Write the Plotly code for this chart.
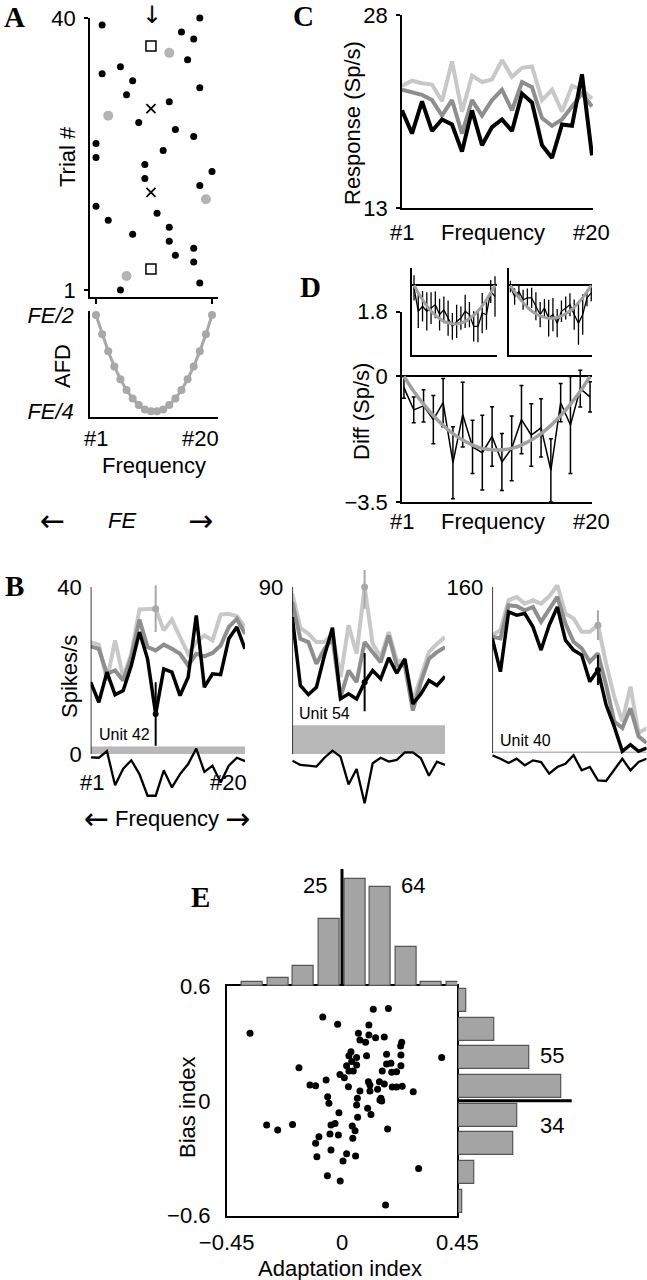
import plotly.graph_objects as go

# ------------------------------------------------------------------ data
freq = list(range(1, 21))

# Panel A : frequency presented on each trial
trial_num = list(range(1, 41))
trial_freq = [5, 18, 6, 10, 17, 14, 17, 13, 7, 13, 3, 11, 1, 19, 10, 18, 9, 20, 9, 1,
              12, 1, 17, 14, 8, 3, 10, 13, 6, 18, 7, 2, 5, 16, 13, 10, 17, 15, 2, 18]
trial_kind = ['d', 'd', 'g', 's', 'd', 'd', 'd', 'd', 'd', 'd',
              'd', 'd', 'd', 'g', 'x', 'd', 'd', 'd', 'd', 'd',
              'd', 'd', 'd', 'd', 'd', 'g', 'x', 'd', 'd', 'd',
              'd', 'd', 'd', 'd', 'g', 's', 'd', 'd', 'd', 'd']
a_yticks = [1, 40]
afd_values = [0.500, 0.450, 0.406, 0.367, 0.334, 0.306, 0.284, 0.267, 0.256, 0.251,
              0.251, 0.256, 0.267, 0.284, 0.306, 0.334, 0.367, 0.406, 0.450, 0.500]
afd_ticks = [0.5, 0.25]
afd_ticktext = ['<i>FE/2</i>', '<i>FE/4</i>']
freq_ticktext = ['#1', '#20']

# Panel C
c_light = [22.5, 22.9, 22.7, 22.6, 21.3, 24.4, 20.5, 23.3, 22.8, 23.0,
           24.5, 23.2, 23.9, 24.0, 21.4, 22.2, 20.5, 22.5, 22.2, 21.5]
c_mid = [22.2, 22.0, 21.8, 21.4, 20.2, 21.4, 18.8, 21.4, 20.2, 21.4,
         22.2, 20.6, 22.8, 22.4, 20.0, 19.4, 19.9, 20.9, 21.9, 20.9]
c_black = [20.6, 18.8, 21.3, 19.0, 19.9, 19.5, 17.4, 20.6, 17.9, 19.3,
           19.9, 19.0, 21.9, 21.2, 17.9, 16.9, 19.5, 19.4, 23.4, 17.1]
c_yticks = [13, 28]

# Panel D
d_mean = [-0.31, -0.93, -0.82, -1.20, -0.73, -2.40, -1.06, -1.96, -2.12, -1.67,
          -2.38, -2.00, -1.20, -1.63, -1.43, -2.61, -0.73, -1.35, -0.34, -0.57]
d_err = [0.30, 0.36, 0.45, 0.67, 0.67, 1.00, 0.90, 0.74, 1.04, 0.83,
         0.79, 0.90, 0.95, 0.87, 0.81, 0.88, 0.53, 1.35, 0.51, 0.42]
d_fit = [0, -0.41, -0.77, -1.09, -1.36, -1.59, -1.77, -1.91, -2.00, -2.04,
         -2.04, -2.00, -1.91, -1.77, -1.59, -1.36, -1.09, -0.77, -0.41, 0]
d_yticks = [-3.5, 0, 1.8]
d_yticktext = ['\u22123.5', '0', '1.8']
inl_mean = [-0.07, -0.72, -0.58, -0.72, -0.63, -0.54, -0.81, -0.68, -0.91, -1.14,
            -1.00, -0.91, -0.72, -0.81, -1.14, -1.14, -0.77, -0.81, -0.17, -0.31]
inl_err = [0.35, 0.46, 0.42, 0.53, 0.44, 0.37, 0.44, 0.37, 0.49, 0.37,
           0.46, 0.32, 0.46, 0.35, 0.42, 0.44, 0.56, 0.42, 0.32, 0.56]
inl_fit = [0, -0.21, -0.40, -0.57, -0.71, -0.83, -0.92, -1.00, -1.04, -1.07,
           -1.07, -1.04, -1.00, -0.92, -0.83, -0.71, -0.57, -0.40, -0.21, 0]
inr_mean = [-0.03, -0.31, -0.17, -0.40, -0.35, -0.35, -0.58, -0.81, -0.63, -0.91,
            -0.81, -1.05, -0.72, -0.63, -0.54, -0.81, -1.05, -0.81, -0.35, -0.21]
inr_err = [0.16, 0.23, 0.19, 0.28, 0.26, 0.28, 0.39, 0.35, 0.25, 0.51,
           0.46, 0.39, 0.30, 0.32, 0.32, 0.42, 0.60, 0.56, 0.23, 0.23]
inr_fit = [0, -0.18, -0.34, -0.48, -0.61, -0.71, -0.79, -0.85, -0.89, -0.91,
           -0.91, -0.89, -0.85, -0.79, -0.71, -0.61, -0.48, -0.34, -0.18, 0]

# Panel B (three units)
b1_light = [26.8, 26.2, 17.6, 27.2, 18.4, 24.0, 34.6, 34.6, 34.8, 29.6,
            32.2, 28.0, 24.0, 26.8, 28.4, 27.2, 33.4, 33.6, 33.0, 30.4]
b1_mid = [25.8, 25.2, 19.2, 20.0, 17.6, 23.2, 32.2, 25.6, 24.8, 26.2,
          25.2, 24.0, 21.2, 24.0, 23.4, 24.2, 26.0, 30.4, 32.4, 28.8]
b1_black = [17.2, 12.4, 19.6, 14.2, 15.2, 21.2, 29.2, 22.8, 9.6, 20.4,
            19.6, 14.0, 18.4, 33.2, 16.0, 19.2, 19.0, 27.6, 30.4, 25.2]
b1_diff = [-0.8, -0.9, 0.7, -7.5, -3.5, -1.5, -4.8, -10.0, -10.0, -3.9,
           -8.0, -4.8, -2.4, 1.3, -4.3, -2.8, -6.8, -2.8, -0.9, -1.7]
b1_base = 1.8
b1_err_f, b1_light_err, b1_black_err = 9, 5.6, 7.6
b1_top = 40

b2_light = [86.4, 68.0, 64.8, 60.3, 60.3, 64.8, 41.4, 69.3, 54.0, 90.0,
            59.4, 52.2, 65.7, 50.4, 49.5, 28.8, 41.4, 54.9, 59.4, 63.0]
b2_mid = [81.9, 62.1, 60.3, 48.6, 56.7, 62.1, 30.6, 45.0, 38.7, 60.3,
          54.9, 49.5, 63.9, 47.7, 47.7, 23.4, 38.7, 51.3, 54.9, 57.6]
b2_black = [73.8, 36.9, 32.0, 36.0, 53.1, 68.0, 29.7, 32.4, 29.7, 38.7,
            45.0, 40.5, 51.8, 43.6, 51.3, 27.0, 32.4, 39.6, 36.9, 41.8]
b2_diff = [-3.6, -5.9, -6.3, -6.8, -2.0, 1.8, -1.4, -16.4, -8.1, -26.6,
           -5.0, -2.0, -4.1, -3.2, 0.9, 0.9, -2.3, -11.7, -4.1, -5.9]
b2_base = 15.5
b2_err_f, b2_light_err, b2_black_err = 10, 11.7, 15.7
b2_top = 90

b3_light = [113.6, 118.4, 147.2, 150.4, 144.0, 147.2, 144.0, 151.0, 161.6, 134.4,
            129.6, 116.8, 116.8, 123.2, 86.4, 54.4, 30.4, 64.0, 19.2, 24.0]
b3_mid = [112.0, 110.4, 142.4, 141.4, 137.6, 140.8, 126.4, 139.2, 150.4, 124.8,
          107.2, 100.8, 88.0, 96.0, 65.6, 30.4, 24.0, 43.2, 16.0, 9.6]
b3_black = [110.4, 78.4, 136.0, 132.8, 134.4, 121.6, 99.2, 123.2, 140.8, 108.8,
            99.2, 94.4, 68.8, 80.0, 46.4, 25.6, 1.6, 8.0, 1.6, 4.8]
b3_diff = [-2.2, -5.5, -9.6, -5.5, -11.9, -7.1, -8.7, -19.9, -13.5, -10.3,
           -2.2, -16.7, -13.5, -26.3, -27.0, -16.7, -5.5, -16.7, -8.7, -5.5]
b3_base = 1.5
b3_err_f, b3_light_err, b3_black_err = 14, 14.4, 14.4
b3_top = 160

# Panel E
adapt_idx = [-0.359, -0.075, -0.017, 0.122, 0.181, 0.105, 0.064, 0.105, 0.131, 0.165,
             0.070, 0.092, 0.233, 0.229, 0.035, 0.027, 0.057, 0.096, 0.174, 0.230,
             0.389, 0.057, 0.038, 0.018, 0.174, 0.191, 0.230, -0.168, 0.027, 0.044,
             -0.008, 0.009, 0.157, 0.194, 0.213, -0.062, -0.125, -0.103, 0.025, 0.103,
             0.109, 0.146, 0.165, 0.109, 0.139, 0.070, 0.196, 0.213, 0.235, 0.278,
             -0.056, -0.051, 0.060, 0.057, 0.152, 0.155, 0.148, 0.100, 0.113, -0.012,
             0.061, -0.294, -0.251, -0.193, -0.043, -0.027, 0.040, 0.051, 0.178, -0.047,
             -0.014, 0.042, -0.090, -0.103, -0.043, 0.018, 0.053, -0.098, 0.004, 0.299,
             -0.057, -0.007, 0.170]
bias_idx = [0.353, 0.438, 0.400, 0.478, 0.483, 0.396, 0.353, 0.344, 0.330, 0.334,
            0.318, 0.306, 0.306, 0.287, 0.257, 0.236, 0.226, 0.236, 0.243, 0.239,
            0.227, 0.187, 0.205, 0.184, 0.192, 0.196, 0.184, 0.173, 0.156, 0.156,
            0.138, 0.121, 0.156, 0.149, 0.152, 0.109, 0.083, 0.079, 0.074, 0.100,
            0.083, 0.100, 0.088, 0.051, 0.060, 0.051, 0.072, 0.072, 0.076, 0.048,
            0.022, -0.013, 0.013, -0.022, 0.013, -0.001, 0.004, -0.039, -0.071, -0.062,
            -0.086, -0.126, -0.152, -0.123, -0.126, -0.118, -0.132, -0.156, -0.147, -0.173,
            -0.179, -0.196, -0.187, -0.222, -0.257, -0.276, -0.288, -0.292, -0.314, -0.353,
            -0.391, -0.419, -0.544]
top_centers = [-0.35, -0.25, -0.15, -0.05, 0.05, 0.15, 0.25, 0.35, 0.45]
top_counts = [1, 2, 5, 17, 27, 25, 10, 1, 1]
right_centers = [0.525, 0.375, 0.225, 0.075, -0.075, -0.225, -0.375, -0.525]
right_counts = [2, 9, 18, 26, 15, 14, 4, 1]
e_xticks = [-0.45, 0, 0.45]
e_xticktext = ['\u22120.45', '0', '0.45']
e_yticks = [-0.6, 0, 0.6]
e_yticktext = ['\u22120.6', '0', '0.6']
e_count_labels = ['25', '64', '55', '34']

# ------------------------------------------------------------------ layout helpers
W, H = 647, 1280
FONT = "Liberation Sans, Arial, sans-serif"
SERIF = "Liberation Serif, Times New Roman, serif"
ARROWF = "DejaVu Sans"
TXT = 22
LIGHT, MID, AFDC, FITC = '#c8c8c8', '#8e8e8e', '#a8a8a8', '#a0a0a0'


def X(p):
    return p / W


def Y(p):
    return 1 - p / H


def base(**kw):
    d = dict(showgrid=False, zeroline=False, showline=False, showticklabels=False, automargin=False,
             ticks='', fixedrange=True, tickfont=dict(size=TXT, family=FONT, color='black'))
    d.update(kw)
    return d


LINE = dict(showline=True, linecolor='black', linewidth=1.5)
TICK = dict(tickcolor='black', tickwidth=1.5)

fig = go.Figure()

# ------------------------------------------------------------------ Panel A
styles = {
    'd': dict(size=7, color='black'),
    'g': dict(size=10, color='#b4b4b4'),
    's': dict(size=10, color='black', symbol='square-open', line=dict(width=1.5, color='black')),
    'x': dict(size=9, color='black', symbol='x-thin-open', line=dict(width=1.8, color='black')),
}
for k in ['d', 'g', 's', 'x']:
    xs = [f for f, kk in zip(trial_freq, trial_kind) if kk == k]
    ys = [t for t, kk in zip(trial_num, trial_kind) if kk == k]
    fig.add_trace(go.Scatter(x=xs, y=ys, mode='markers', marker=styles[k],
                             xaxis='x', yaxis='y', cliponaxis=False, showlegend=False))

fig.add_trace(go.Scatter(x=freq, y=afd_values, mode='lines+markers',
                         line=dict(color=AFDC, width=3), marker=dict(size=8, color=AFDC),
                         xaxis='x2', yaxis='y2', cliponaxis=False, showlegend=False))

# ------------------------------------------------------------------ Panel C
for vals, col in [(c_light, LIGHT), (c_mid, MID), (c_black, 'black')]:
    fig.add_trace(go.Scatter(x=freq, y=vals, mode='lines', line=dict(color=col, width=4),
                             xaxis='x3', yaxis='y3', cliponaxis=False, showlegend=False))

# ------------------------------------------------------------------ Panel D
fig.add_trace(go.Scatter(x=freq, y=d_mean, mode='lines', line=dict(color='black', width=1.5),
                         error_y=dict(type='data', array=d_err, color='black', thickness=1.5, width=2),
                         xaxis='x4', yaxis='y4', cliponaxis=False, showlegend=False))
fig.add_trace(go.Scatter(x=freq, y=d_fit, mode='lines', line=dict(color=FITC, width=3.5, shape='spline'),
                         xaxis='x4', yaxis='y4', cliponaxis=False, showlegend=False))
for m, e, fit, xa, ya in [(inl_mean, inl_err, inl_fit, 'x5', 'y5'), (inr_mean, inr_err, inr_fit, 'x6', 'y6')]:
    fig.add_trace(go.Scatter(x=freq, y=m, mode='lines', line=dict(color='black', width=1.3),
                             error_y=dict(type='data', array=e, color='black', thickness=1.3, width=0),
                             xaxis=xa, yaxis=ya, cliponaxis=False, showlegend=False))
    fig.add_trace(go.Scatter(x=freq, y=fit, mode='lines', line=dict(color=FITC, width=3, shape='spline'),
                             xaxis=xa, yaxis=ya, cliponaxis=False, showlegend=False))

# ------------------------------------------------------------------ Panel B
units = [
    (b1_light, b1_mid, b1_black, b1_diff, b1_err_f, b1_light_err, b1_black_err, 'x7', 'y7'),
    (b2_light, b2_mid, b2_black, b2_diff, b2_err_f, b2_light_err, b2_black_err, 'x8', 'y8'),
    (b3_light, b3_mid, b3_black, b3_diff, b3_err_f, b3_light_err, b3_black_err, 'x9', 'y9'),
]
for lt, md, bk, df, ef, le, be, xa, ya in units:
    fig.add_trace(go.Scatter(x=freq, y=lt, mode='lines', line=dict(color=LIGHT, width=4),
                             xaxis=xa, yaxis=ya, cliponaxis=False, showlegend=False))
    fig.add_trace(go.Scatter(x=freq, y=md, mode='lines', line=dict(color=MID, width=4),
                             xaxis=xa, yaxis=ya, cliponaxis=False, showlegend=False))
    fig.add_trace(go.Scatter(x=freq, y=bk, mode='lines', line=dict(color='black', width=3.5),
                             xaxis=xa, yaxis=ya, cliponaxis=False, showlegend=False))
    fig.add_trace(go.Scatter(x=[ef], y=[lt[ef - 1]], mode='markers', marker=dict(size=7, color='#a8a8a8'),
                             error_y=dict(type='data', array=[le], color='#a8a8a8', thickness=2, width=0),
                             xaxis=xa, yaxis=ya, cliponaxis=False, showlegend=False))
    fig.add_trace(go.Scatter(x=[ef], y=[bk[ef - 1]], mode='markers', marker=dict(size=6, color='black'),
                             error_y=dict(type='data', array=[be], color='black', thickness=2, width=0),
                             xaxis=xa, yaxis=ya, cliponaxis=False, showlegend=False))
    fig.add_trace(go.Scatter(x=freq, y=df, mode='lines', line=dict(color='black', width=2.3),
                             xaxis=xa, yaxis=ya, cliponaxis=False, showlegend=False))

# ------------------------------------------------------------------ Panel E
fig.add_trace(go.Bar(x=top_centers, y=top_counts, width=0.082,
                     marker=dict(color='#a4a4a4', line=dict(color='#555555', width=1.2)),
                     xaxis='x11', yaxis='y11', showlegend=False))
fig.add_trace(go.Bar(y=right_centers, x=right_counts, orientation='h', width=0.12,
                     marker=dict(color='#a4a4a4', line=dict(color='#555555', width=1.2)),
                     xaxis='x12', yaxis='y12', showlegend=False))
fig.add_trace(go.Scatter(x=adapt_idx, y=bias_idx, mode='markers', marker=dict(size=7, color='black'),
                         xaxis='x10', yaxis='y10', cliponaxis=False, showlegend=False))

# ------------------------------------------------------------------ axes
fr_a = [0.017, 20.98]
layout_axes = dict(
    xaxis=base(domain=[X(90), X(218)], range=fr_a, anchor='y', ticks='outside', tickvals=[1, 20], ticklen=5, **LINE, **TICK),
    yaxis=base(domain=[Y(297), Y(18)], range=[-0.004, 40], anchor='x', ticks='outside', tickvals=a_yticks, ticklen=4,
               showticklabels=True, ticklabelstandoff=4, **LINE, **TICK),
    xaxis2=base(domain=[X(90), X(218)], range=fr_a, anchor='y2', **LINE),
    yaxis2=base(domain=[Y(417), Y(311)], range=[0.2363, 0.5103], anchor='x2', tickvals=afd_ticks, ticktext=afd_ticktext,
                showticklabels=True, ticklabelstandoff=10, **LINE),
    xaxis3=base(domain=[X(402), X(593)], range=[1, 20.1], anchor='y3', ticks='inside', tickvals=[20], ticklen=4, **LINE, **TICK),
    yaxis3=base(domain=[Y(208.3), Y(15)], range=[13, 28], anchor='x3', ticks='outside', tickvals=c_yticks, ticklen=4,
                showticklabels=True, ticklabelstandoff=4, **LINE, **TICK),
    xaxis4=base(domain=[X(402), X(592)], range=[0.8, 20.2], anchor='y4', **LINE),
    yaxis4=base(domain=[Y(502.3), Y(311.7)], range=[-3.5, 1.8], anchor='x4', ticks='outside', tickvals=d_yticks,
                ticktext=d_yticktext, ticklen=4, showticklabels=True, ticklabelstandoff=4,
                zeroline=True, zerolinecolor='black', zerolinewidth=1.5, **LINE, **TICK),
    xaxis5=base(domain=[X(412.3), X(496.7)], range=[0.6, 20.4], anchor='y5', **LINE),
    yaxis5=base(domain=[Y(355.3), Y(268)], range=[-1.94, 0.48], anchor='x5',
                zeroline=True, zerolinecolor='black', zerolinewidth=1.5, **LINE),
    xaxis6=base(domain=[X(509.3), X(592.3)], range=[0.75, 20.25], anchor='y6', **LINE),
    yaxis6=base(domain=[Y(355.3), Y(268)], range=[-1.94, 0.48], anchor='x6',
                zeroline=True, zerolinecolor='black', zerolinewidth=1.5, **LINE),
    xaxis7=base(domain=[X(90.7), X(245)], range=[1, 20], anchor='y7'),
    yaxis7=base(domain=[Y(808), Y(570)], range=[-12.93, 44.07], anchor='x7', tickvals=[0, b1_top],
                showticklabels=True, ticklabelstandoff=8),
    xaxis8=base(domain=[X(292.3), X(445)], range=[1, 20], anchor='y8'),
    yaxis8=base(domain=[Y(810), Y(570)], range=[-30.18, 99.16], anchor='x8', tickvals=[b2_top],
                showticklabels=True, ticklabelstandoff=8),
    xaxis9=base(domain=[X(492.3), X(646.7)], range=[1, 20], anchor='y9'),
    yaxis9=base(domain=[Y(790), Y(570)], range=[-35.66, 176.39], anchor='x9', tickvals=[b3_top],
                showticklabels=True, ticklabelstandoff=8),
    xaxis10=base(domain=[X(226.7), X(457.3)], range=[-0.45, 0.45], anchor='y10', mirror=True, tickvals=e_xticks,
                 ticktext=e_xticktext, showticklabels=True, ticklabelstandoff=6, **LINE),
    yaxis10=base(domain=[Y(1215.7), Y(986)], range=[-0.6, 0.6], anchor='x10', mirror=True, tickvals=e_yticks,
                 ticktext=e_yticktext, showticklabels=True, ticklabelstandoff=10, **LINE),
    xaxis11=base(domain=[X(226.7), X(457.3)], range=[-0.45, 0.45], anchor='y11'),
    yaxis11=base(domain=[Y(986), Y(866)], range=[0, 30.38], anchor='x11'),
    xaxis12=base(domain=[X(458.3), X(580)], range=[0, 30.8], anchor='y12'),
    yaxis12=base(domain=[Y(1215.7), Y(986)], range=[-0.6, 0.6], anchor='x12'),
)

# ------------------------------------------------------------------ shapes
shapes = []
for xa, ya, top, bs in [('x7', 'y7', b1_top, b1_base), ('x8', 'y8', b2_top, b2_base), ('x9', 'y9', b3_top, b3_base)]:
    shapes.append(dict(type='rect', xref=xa, yref=ya, x0=1, x1=20, y0=0, y1=bs,
                       fillcolor='#b8b8b8', line=dict(width=0), layer='below'))
    shapes.append(dict(type='line', xref=xa, yref=ya, x0=1, x1=1, y0=0, y1=top,
                       line=dict(color='black', width=1.5)))
shapes.append(dict(type='line', xref='x11', yref='y11', x0=0, x1=0, y0=0, y1=29.6,
                   line=dict(color='black', width=3)))
shapes.append(dict(type='line', xref='x12', yref='y12', x0=0, x1=28.7, y0=0, y1=0,
                   line=dict(color='black', width=3)))

# ------------------------------------------------------------------ annotations
ann = []


def T(text, x, y, size=TXT, angle=0, xanchor='center', family=FONT):
    ann.append(dict(text=text, x=X(x), y=Y(y), xref='paper', yref='paper', showarrow=False,
                    xanchor=xanchor, yanchor='middle', textangle=angle,
                    font=dict(size=size, family=family, color='black')))


for letter, lx, ly in [('A', 14, 17), ('B', 14, 586), ('C', 303, 16), ('D', 310, 287), ('E', 200, 897)]:
    T('<b>' + letter + '</b>', lx, ly, size=29, family=SERIF)

# A
T('Trial #', 67, 157, angle=-90)
T('\u2193', 152, 15, size=24, family=ARROWF)
T('AFD', 63, 366, angle=-90)
T(freq_ticktext[0], 96, 438)
T(freq_ticktext[1], 200, 438)
T('Frequency', 154, 466)
T('\u2190', 52, 520, size=30, family=ARROWF)
T('<i>FE</i>', 122, 520)
T('\u2192', 200, 520, size=30, family=ARROWF)
# C
T('Response (Sp/s)', 353, 123, angle=-90)
T(freq_ticktext[0], 401.7, 232)
T('Frequency', 493, 232)
T(freq_ticktext[1], 591, 232)
# D
T('Diff (Sp/s)', 361, 412, angle=-90)
T(freq_ticktext[0], 401.7, 521)
T('Frequency', 493, 521)
T(freq_ticktext[1], 591, 521)
# B
T('Spikes/s', 69, 677, angle=-90)
T('Unit 42', 96.7, 734, size=16, xanchor='left')
T('Unit 54', 296.7, 713, size=16, xanchor='left')
T('Unit 40', 498.3, 740, size=16, xanchor='left')
T(freq_ticktext[0], 92, 782)
T(freq_ticktext[1], 228, 782)
T('\u2190', 96, 818, size=30, family=ARROWF)
T('Frequency', 166.7, 818)
T('\u2192', 237.5, 818, size=30, family=ARROWF)
# E
T('Adaptation index', 340, 1268)
T('Bias index', 187, 1107, angle=-90)
T(e_count_labels[0], 315, 885)
T(e_count_labels[1], 413, 885)
T(e_count_labels[2], 552, 1055)
T(e_count_labels[3], 552, 1125)

fig.update_layout(
    template='none',
    width=W, height=H, margin=dict(l=0, r=0, t=0, b=0, pad=0, autoexpand=False),
    paper_bgcolor='white', plot_bgcolor='rgba(0,0,0,0)',
    font=dict(family=FONT, size=TXT, color='black'),
    showlegend=False, bargap=0, shapes=shapes, annotations=ann,
    **layout_axes,
)

fig.write_html("out.html", config={'displayModeBar': False},
               post_script="document.body.style.margin='0px';document.body.style.overflow='hidden';")
